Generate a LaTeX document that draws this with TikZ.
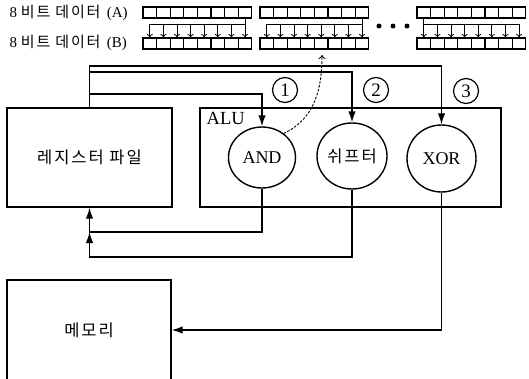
\documentclass[tikz,border=0pt]{standalone}
\usepackage{fontspec}
\setmainfont{Liberation Serif}
\newfontfamily\kr{Noto Sans CJK KR}
\newfontfamily\krw[LetterSpace=12]{Noto Sans CJK KR}
\usetikzlibrary{arrows.meta,shapes.geometric}
\begin{document}
\begin{tikzpicture}[x=1pt,y=-1pt,line width=1.4pt,
  box/.style={draw,rectangle,inner sep=0pt},
  unit/.style={draw,ellipse,inner sep=0pt,font=\fontsize{18}{18}\selectfont},
  num/.style={draw,circle,minimum size=25pt,inner sep=0pt,line width=1.2pt,font=\fontsize{19}{19}\selectfont},
  cell/.style={draw,rectangle,minimum width=13.6pt,minimum height=11pt,inner sep=0pt,line width=1.1pt},
  arr/.style={-{Latex[length=11pt,width=7.5pt]}},
  bitarr/.style={line width=0.8pt,-{To[length=3.5pt,width=6pt]}},
  dotmark/.style={circle,fill,minimum size=5pt,inner sep=0pt},
  lbl/.style={anchor=west,inner sep=0pt,font=\fontsize{15}{15}\selectfont}]
\useasboundingbox (0,0) rectangle (529,378);

% bit registers
\foreach \g/\x in {1/143,2/260,3/417}{
  \foreach \i in {0,...,7}{
    \node[cell] (a\g\i) at ({\x+13.6*\i+6.8},12.5) {};
    \node[cell] (b\g\i) at ({\x+13.6*\i+6.8},43.5) {};
  }
}
\coordinate (yh) at (0,24);
\foreach \g in {1,2,3}{
  \draw[line width=0.9pt] (a\g0.south |- yh) -- (a\g7.south |- yh);
  \foreach \i in {0,...,7}{
    \draw[bitarr] (b\g\i.north |- yh) -- (b\g\i.north);
  }
}
\draw[line width=0.9pt] (a17.south) -- (a17.south |- yh);
\draw[line width=0.9pt] (a27.south) -- (a27.south |- yh);
\draw[line width=0.9pt] (a30.south) -- (a30.south |- yh);

\node[dotmark] (d1) at (379,26) {};
\node[dotmark] (d2) at (393,26) {};
\node[dotmark] (d3) at (407,26) {};

\node[lbl] (la) at (9,13) {8 {\krw 비트 데이터} \,(A)};
\node[lbl] (lb) at (9,43) {8 {\krw 비트 데이터} \,(B)};

% main blocks
\node[box,minimum width=165pt,minimum height=99pt,font=\krw\fontsize{16.5}{16.5}\selectfont] (reg) at (89.5,157.5) {레지스터 파일};
\node[box,minimum width=301pt,minimum height=99pt] (alu) at (350.5,157.5) {};
\node[anchor=north west,inner sep=0pt,font=\fontsize{18.5}{18.5}\selectfont] (alul) at (206,112) {ALU};
\node[box,minimum width=164pt,minimum height=100pt,font=\krw\fontsize{16.5}{16.5}\selectfont] (mem) at (89,330) {메모리};

\node[unit,minimum width=67pt,minimum height=61pt] (and) at (262,157.5) {AND};
\node[unit,minimum width=70pt,minimum height=66pt,font=\krw\fontsize{16.5}{16.5}\selectfont] (shf) at (352,156) {쉬프터};
\node[unit,minimum width=69pt,minimum height=67pt] (xor) at (441.5,158.5) {XOR};

\node[num] (n1) at (285,90) {1};
\node[num] (n2) at (376,90) {2};
\node[num] (n3) at (466,91) {3};

% inputs
\coordinate (ya) at (0,66);
\coordinate (yb) at (0,72);
\coordinate (yc) at (0,94);
\draw[arr] (reg.north) |- (xor.north |- ya) -- (xor.north);
\draw[arr] (reg.north |- yb) -- (shf.north |- yb) -- (shf.north);
\draw[arr] (reg.north |- yc) -- (and.north |- yc) -- (and.north);

% outputs
\coordinate (yd) at (0,232);
\coordinate (ye) at (0,257);
\draw[arr] (and.south) -- (and.south |- yd) -- (reg.south |- yd) -- (reg.south);
\draw[arr] (shf.south) -- (shf.south |- ye) -- (reg.south |- ye) -- (reg.south |- yd);
\draw[arr] (xor.south) -- (xor.south |- mem.east) -- (mem.east);

% dashed feedback
\coordinate (dtip) at (322,55);
\draw[line width=0.9pt,dash pattern=on 2.5pt off 1.5pt,-{To[length=4pt,width=7pt]}] (and.48) to[out=25,in=-90] (dtip);
\end{tikzpicture}
\end{document}
